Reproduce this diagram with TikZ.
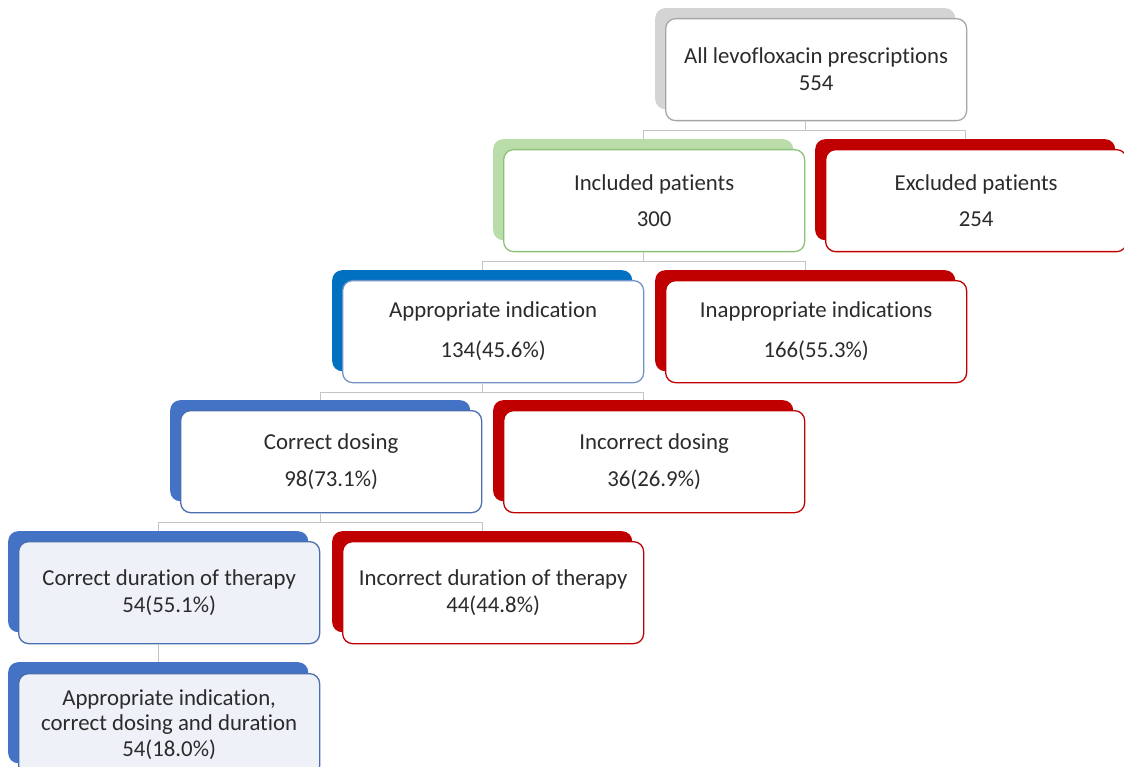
\documentclass[tikz,border=0pt]{standalone}
\usepackage{fontspec}
\setmainfont{Carlito}[Ligatures=NoCommon]
\definecolor{txt}{HTML}{2B2B2B}
\definecolor{linegray}{HTML}{C4C4C4}
\definecolor{grayS}{HTML}{D4D4D4}
\definecolor{grayB}{HTML}{A6A6A6}
\definecolor{greenS}{HTML}{B9DCA9}
\definecolor{greenB}{HTML}{8CC178}
\definecolor{redC}{HTML}{C00000}
\definecolor{blueA}{HTML}{0070C0}
\definecolor{blueAB}{HTML}{7394C8}
\definecolor{blueC}{HTML}{4472C4}
\definecolor{blueCB}{HTML}{4A6FB0}
\definecolor{paleblue}{HTML}{EEF1F7}
\begin{document}
\begin{tikzpicture}[x=1pt,y=-1pt,
  back/.style={draw=none, rounded corners=10pt, minimum width=300pt, minimum height=101pt, inner sep=0pt, anchor=north west},
  front/.style={rounded corners=10pt, minimum width=301pt, minimum height=102pt, inner sep=0pt, anchor=north west, fill=white, line width=1.3pt, align=center, text=txt, font=\fontsize{22.8}{27}\selectfont},
  conn/.style={draw=linegray, line width=1.2pt}]
\useasboundingbox (0,0) rectangle (1124,767);
\clip (0,0) rectangle (1124,767);
\fill[white] (0,0) rectangle (1124,767);

% level 1
\node[back, fill=grayS] (s1) at (655,8) {};
\node[front, draw=grayB] (f1) at (665,18) {All levofloxacin prescriptions\\554};
% level 2
\node[back, fill=greenS] (s2) at (493,139) {};
\node[front, draw=greenB] (f2) at (503,149) {Included patients\\[9pt]300};
\node[back, fill=redC] (s3) at (815,139) {};
\node[front, draw=redC] (f3) at (825,149) {Excluded patients\\[9pt]254};
% level 3
\node[back, fill=blueA] (s4) at (332,270) {};
\node[front, draw=blueAB] (f4) at (342,280) {Appropriate indication\\[13pt]134(45.6\%)};
\node[back, fill=redC] (s5) at (655,270) {};
\node[front, draw=redC] (f5) at (665,280) {Inappropriate indications\\[13pt]166(55.3\%)};
% level 4
\node[back, fill=blueC] (s6) at (170,400) {};
\node[front, draw=blueCB] (f6) at (180,410) {Correct dosing\\[10pt]98(73.1\%)};
\node[back, fill=redC] (s7) at (493,400) {};
\node[front, draw=redC] (f7) at (503,410) {Incorrect dosing\\[10pt]36(26.9\%)};
% level 5
\node[back, fill=blueC] (s8) at (8,531) {};
\node[front, draw=blueCB, fill=paleblue] (f8) at (18,541) {Correct duration of therapy\\54(55.1\%)};
\node[back, fill=redC] (s9) at (332,531) {};
\node[front, draw=redC] (f9) at (342,541) {Incorrect duration of therapy\\44(44.8\%)};
% level 6
\node[back, fill=blueC] (s10) at (8,662) {};
\node[front, draw=blueCB, fill=paleblue, font=\fontsize{22.8}{25.5}\selectfont] (f10) at (18,673) {Appropriate indication,\\correct dosing and duration\\54(18.0\%)};

% connectors
\draw[conn] (s1.center |- f1.south) -- ++(0,9) coordinate (j1) -| (s2.north);
\draw[conn] (j1) -| (s3.north);
\draw[conn] (s2.center |- f2.south) -- ++(0,9) coordinate (j2) -| (s4.north);
\draw[conn] (j2) -| (s5.north);
\draw[conn] (s4.center |- f4.south) -- ++(0,9) coordinate (j4) -| (s6.north);
\draw[conn] (j4) -| (s7.north);
\draw[conn] (s6.center |- f6.south) -- ++(0,9) coordinate (j6) -| (s8.north);
\draw[conn] (j6) -| (s9.north);
\draw[conn] (s8.center |- f8.south) -- (s10.north);
\end{tikzpicture}
\end{document}
